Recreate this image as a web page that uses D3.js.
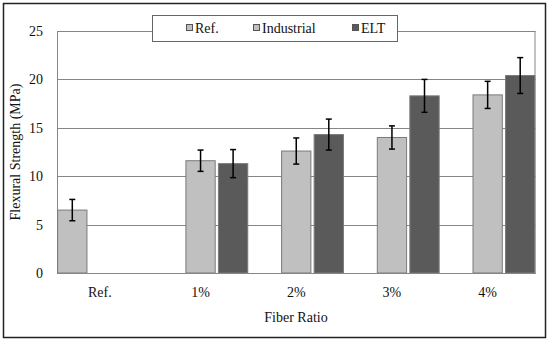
<!DOCTYPE html>
<html>
<head>
<meta charset="utf-8">
<script src="https://cdn.jsdelivr.net/npm/d3@7"></script>
<style>
  body { margin: 0; background: #fff; }
</style>
</head>
<body>
<div id="area"></div>
<script>
var categories = ["Ref.", "1%", "2%", "3%", "4%"];
var seriesNames = ["Ref.", "Industrial", "ELT"];
var refValues = [6.5, null, null, null, null];
var refErrors = [1.1, null, null, null, null];
var industrialValues = [null, 11.6, 12.6, 14.0, 18.4];
var industrialErrors = [null, 1.1, 1.35, 1.2, 1.4];
var eltValues = [null, 11.3, 14.3, 18.3, 20.4];
var eltErrors = [null, 1.45, 1.6, 1.7, 1.85];
var yTicks = [0, 5, 10, 15, 20, 25];

var colors = { "Ref.": "#c0c0c0", "Industrial": "#c0c0c0", "ELT": "#5a5a5a" };
var serif = '"Liberation Serif", "Times New Roman", serif';

var W = 550, H = 342;
var margin = { top: 31, left: 57 },
  width = 535.5 - margin.left,
  height = 273 - margin.top;

var svg = d3.select("#area")
  .append("svg")
  .attr("width", W)
  .attr("height", H);

// outer frame
svg.append("rect")
  .attr("x", 3.5).attr("y", 3.5)
  .attr("width", 542).attr("height", 334)
  .attr("fill", "#fff")
  .attr("stroke", "#222")
  .attr("stroke-width", 1.5);

var g = svg.append("g")
  .attr("transform", "translate(" + margin.left + "," + margin.top + ")");

var x0 = d3.scaleBand().domain(categories).range([0, width]).padding(0);
var x1 = d3.scaleBand().domain(seriesNames).range([0, x0.bandwidth()]).paddingInner(0.1).paddingOuter(0.02);
var y = d3.scaleLinear().domain([0, 25]).range([height, 0]);

// gridlines
g.selectAll(".grid")
  .data(yTicks.slice(1))
  .enter()
  .append("line")
  .attr("x1", 0).attr("x2", width)
  .attr("y1", function (d) { return Math.round(y(d)) + 0.5; })
  .attr("y2", function (d) { return Math.round(y(d)) + 0.5; })
  .attr("stroke", "#868686")
  .attr("stroke-width", 1);

// plot border
g.append("rect")
  .attr("x", 0.5).attr("y", 0.5)
  .attr("width", width - 1).attr("height", height)
  .attr("fill", "none")
  .attr("stroke", "#868686");

var data = [];
categories.forEach(function (c, i) {
  [[refValues, refErrors, "Ref."], [industrialValues, industrialErrors, "Industrial"], [eltValues, eltErrors, "ELT"]]
    .forEach(function (s) {
      if (s[0][i] != null) data.push({ cat: c, series: s[2], v: s[0][i], e: s[1][i] });
    });
});

g.selectAll(".bar")
  .data(data)
  .enter()
  .append("rect")
  .attr("x", function (d) { return x0(d.cat) + x1(d.series); })
  .attr("y", function (d) { return y(d.v); })
  .attr("width", x1.bandwidth())
  .attr("height", function (d) { return height - y(d.v); })
  .attr("fill", function (d) { return colors[d.series]; })
  .attr("stroke", "#7a7a7a")
  .attr("stroke-width", 1);

// error bars
var eb = g.selectAll(".err")
  .data(data)
  .enter()
  .append("g")
  .attr("stroke", "#000")
  .attr("stroke-width", 1.5);
function cx(d) { return x0(d.cat) + x1(d.series) + x1.bandwidth() / 2; }
eb.append("line")
  .attr("x1", cx).attr("x2", cx)
  .attr("y1", function (d) { return y(d.v + d.e); })
  .attr("y2", function (d) { return y(d.v - d.e); });
eb.append("line")
  .attr("x1", function (d) { return cx(d) - 3; }).attr("x2", function (d) { return cx(d) + 3; })
  .attr("y1", function (d) { return y(d.v + d.e); })
  .attr("y2", function (d) { return y(d.v + d.e); });
eb.append("line")
  .attr("x1", function (d) { return cx(d) - 3; }).attr("x2", function (d) { return cx(d) + 3; })
  .attr("y1", function (d) { return y(d.v - d.e); })
  .attr("y2", function (d) { return y(d.v - d.e); });

// y axis labels
var yAxis = g.append("g")
  .call(d3.axisLeft(y).tickValues(yTicks).tickSize(0).tickPadding(14))
  .attr("font-family", serif)
  .attr("font-size", 14);
yAxis.select(".domain").remove();
yAxis.selectAll("text").attr("fill", "#111");

// x axis labels
var xAxis = g.append("g")
  .attr("transform", "translate(0," + height + ")")
  .call(d3.axisBottom(x0).tickSize(0).tickPadding(14))
  .attr("font-family", serif)
  .attr("font-size", 14);
xAxis.select(".domain").attr("stroke", "#868686");
xAxis.selectAll("text")
  .attr("dx", function (d, i) { return i === 0 ? -5 : 0; })
  .attr("fill", "#111");

// axis titles
svg.append("text")
  .attr("transform", "translate(20," + (margin.top + height / 2) + ") rotate(-90)")
  .attr("text-anchor", "middle")
  .attr("font-family", serif)
  .attr("font-size", 14)
  .attr("fill", "#111")
  .text("Flexural Strength (MPa)");

svg.append("text")
  .attr("x", 296).attr("y", 322)
  .attr("text-anchor", "middle")
  .attr("font-family", serif)
  .attr("font-size", 14)
  .attr("fill", "#111")
  .text("Fiber Ratio");

// legend
svg.append("rect")
  .attr("x", 152.5).attr("y", 15.5)
  .attr("width", 245).attr("height", 26)
  .attr("fill", "#fff")
  .attr("stroke", "#666");
var legX = [186, 253, 352];
var leg = svg.selectAll(".leg")
  .data(seriesNames)
  .enter()
  .append("g")
  .attr("transform", function (d, i) { return "translate(" + legX[i] + ",28)"; });
leg.append("rect")
  .attr("x", 0.5).attr("y", -3.5)
  .attr("width", 6).attr("height", 6)
  .attr("fill", function (d) { return colors[d]; })
  .attr("stroke", "#555");
leg.append("text")
  .attr("x", 9).attr("y", 5)
  .attr("font-family", serif)
  .attr("font-size", 14)
  .attr("fill", "#111")
  .text(function (d) { return d; });
</script>
</body>
</html>
